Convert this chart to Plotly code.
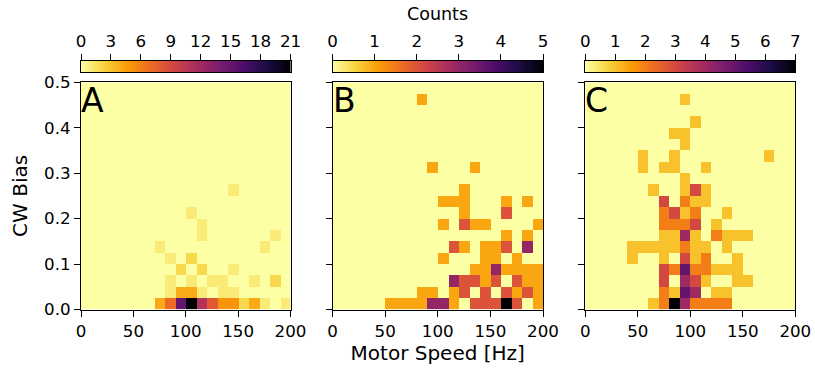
import numpy as np
import plotly.graph_objects as go

# Bin edges
speed_edges = list(range(0, 201, 10))          # Motor speed [Hz]
bias_edges = [round(0.025 * i, 4) for i in range(21)]  # CW bias

def grid(cells):
    """cells: {row: {col: count}} -> 20x20 list (row 0 = lowest bias)."""
    g = [[0] * 20 for _ in range(20)]
    for r, cols in cells.items():
        for c, v in cols.items():
            g[r][c] = v
    return g

# Panel A counts (row index = bias bin, col index = speed bin)
cells_A = {
    0: {7: 4, 8: 7, 9: 15, 10: 21, 11: 11, 12: 8, 13: 5, 14: 5, 15: 2, 16: 4, 17: 1, 19: 1},
    1: {8: 1, 9: 4, 10: 4, 11: 1, 13: 1, 14: 1},
    2: {8: 1, 10: 1, 12: 1, 13: 1, 16: 1, 18: 2},
    3: {9: 2, 11: 2, 14: 1},
    4: {8: 1, 10: 2},
    5: {7: 1, 17: 1},
    6: {11: 1, 18: 1},
    7: {11: 1},
    8: {10: 1},
    10: {14: 1},
}
cells_B = {
    0: {5: 1, 6: 1, 7: 1, 8: 1, 9: 3, 10: 3, 11: 1, 13: 2, 14: 2, 15: 2, 16: 5, 17: 2, 19: 1},
    1: {8: 1, 9: 1, 11: 1, 12: 2, 14: 2, 16: 2, 17: 1, 18: 2, 19: 1},
    2: {11: 3, 12: 2, 13: 2, 14: 1, 15: 2, 17: 2, 18: 1, 19: 1},
    3: {13: 1, 14: 1, 15: 3, 16: 1, 17: 1, 18: 1, 19: 1},
    4: {10: 1, 14: 1, 15: 1, 17: 1},
    5: {11: 2, 12: 1, 14: 1, 15: 1, 16: 2, 18: 3},
    6: {16: 1, 18: 1},
    7: {10: 1, 12: 2, 13: 1, 14: 1, 19: 1},
    8: {12: 1, 16: 2},
    9: {10: 1, 11: 1, 12: 1, 16: 1, 18: 1},
    10: {12: 1},
    12: {9: 1, 13: 1},
    18: {8: 1},
}
cells_C = {
    0: {6: 1, 7: 2, 8: 7, 9: 4, 10: 2, 11: 2, 12: 2, 13: 2},
    1: {7: 2, 8: 1, 9: 5, 10: 4, 12: 1, 13: 1},
    2: {7: 3, 9: 4, 10: 3, 11: 1, 14: 1, 15: 1},
    3: {7: 3, 8: 2, 9: 5, 10: 2, 11: 2, 12: 1, 13: 1, 14: 1},
    4: {4: 1, 7: 1, 9: 3, 10: 1, 11: 2, 14: 1},
    5: {4: 1, 5: 1, 6: 1, 7: 1, 8: 1, 9: 2, 10: 1, 11: 1, 13: 1},
    6: {7: 1, 8: 1, 9: 4, 10: 1, 12: 2, 13: 1, 14: 1, 15: 1},
    7: {7: 2, 8: 2, 9: 2, 10: 3, 12: 1},
    8: {7: 2, 8: 3, 9: 1, 10: 2, 13: 1},
    9: {7: 3, 9: 2, 10: 1, 11: 1},
    10: {6: 1, 9: 1, 10: 3, 11: 1},
    11: {9: 1},
    12: {5: 1, 7: 1, 8: 1, 11: 1},
    13: {5: 1, 8: 1, 17: 1},
    14: {9: 1},
    15: {8: 1, 9: 1},
    16: {10: 1},
    18: {9: 1},
}
counts = [grid(cells_A), grid(cells_B), grid(cells_C)]
panel_labels = ["A", "B", "C"]
cbar_max = [21, 5, 7]
cbar_step = [3, 1, 1]
x_ticks = [0, 50, 100, 150, 200]
y_ticks = [0.0, 0.1, 0.2, 0.3, 0.4, 0.5]

W, H = 815, 371
FONT = "DejaVu Sans"
FS = 16.7

x_dom_px = [(81, 290.5), (332.5, 543), (585.3, 795.3)]
y_dom = [1 - 309.5 / H, 1 - 82.3 / H]
cb_dom = [1 - 72 / H, 1 - 61 / H]

fig = go.Figure()
layout = dict(
    width=W, height=H,
    margin=dict(l=0, r=0, t=0, b=0, autoexpand=False),
    paper_bgcolor="white", plot_bgcolor="white",
    font=dict(family=FONT, size=FS, color="black"),
    showlegend=False,
)

axis_common = dict(showline=True, mirror=True, linecolor="black", linewidth=1,
                   showgrid=False, zeroline=False, ticks="outside", ticklen=6,
                   tickwidth=1, tickcolor="black", automargin=False)

for k in range(3):
    xa = "x" if k == 0 else f"x{k+1}"
    ya = "y" if k == 0 else f"y{k+1}"
    fig.add_trace(go.Heatmap(
        z=counts[k], x=speed_edges, y=bias_edges,
        colorscale="Inferno_r", zmin=0, zmax=cbar_max[k],
        showscale=False, xaxis=xa, yaxis=ya, hoverinfo="skip"))
    dom = [x_dom_px[k][0] / W, x_dom_px[k][1] / W]
    xkey = "xaxis" if k == 0 else f"xaxis{k+1}"
    ykey = "yaxis" if k == 0 else f"yaxis{k+1}"
    layout[xkey] = dict(axis_common, domain=dom, range=[0, 200], tickvals=x_ticks,
                        anchor=ya)
    layout[ykey] = dict(axis_common, domain=y_dom, range=[0, 0.5], tickvals=y_ticks,
                        ticktext=[f"{v:.1f}" for v in y_ticks], anchor=xa,
                        showticklabels=(k == 0))
    # colorbar as its own axis pair
    ci = k + 4
    n = 256
    edges = np.linspace(0, cbar_max[k], n + 1)
    mids = (edges[:-1] + edges[1:]) / 2
    fig.add_trace(go.Heatmap(
        z=[mids], x=edges, y=[0, 1], colorscale="Inferno_r", zmin=0,
        zmax=cbar_max[k], showscale=False, xaxis=f"x{ci}", yaxis=f"y{ci}",
        hoverinfo="skip"))
    layout[f"xaxis{ci}"] = dict(axis_common, domain=dom, range=[0, cbar_max[k]],
                                tickvals=list(range(0, cbar_max[k] + 1, cbar_step[k])),
                                side="top", anchor=f"y{ci}")
    layout[f"yaxis{ci}"] = dict(axis_common, domain=cb_dom, range=[0, 1],
                                showticklabels=False, ticks="", anchor=f"x{ci}")

layout["yaxis"]["title"] = dict(text="CW Bias", standoff=11)
layout["xaxis2"]["title"] = dict(text="Motor Speed [Hz]", standoff=6)

annotations = []
for k in range(3):
    xa = "x" if k == 0 else f"x{k+1}"
    ya = "y" if k == 0 else f"y{k+1}"
    annotations.append(dict(text=panel_labels[k], xref=f"{xa} domain", yref=f"{ya} domain",
                            x=0.0, y=1.0, xanchor="left", yanchor="top", showarrow=False,
                            font=dict(size=33, family=FONT, color="black"),
                            xshift=-2, yshift=3))
annotations.append(dict(text="Counts", xref="paper", yref="paper",
                        x=(x_dom_px[1][0] + x_dom_px[1][1]) / 2 / W, y=1 - 14 / H,
                        xanchor="center", yanchor="middle", showarrow=False,
                        font=dict(size=17.5, family=FONT, color="black")))
layout["annotations"] = annotations
fig.update_layout(**layout)
fig.write_html("out.html")
